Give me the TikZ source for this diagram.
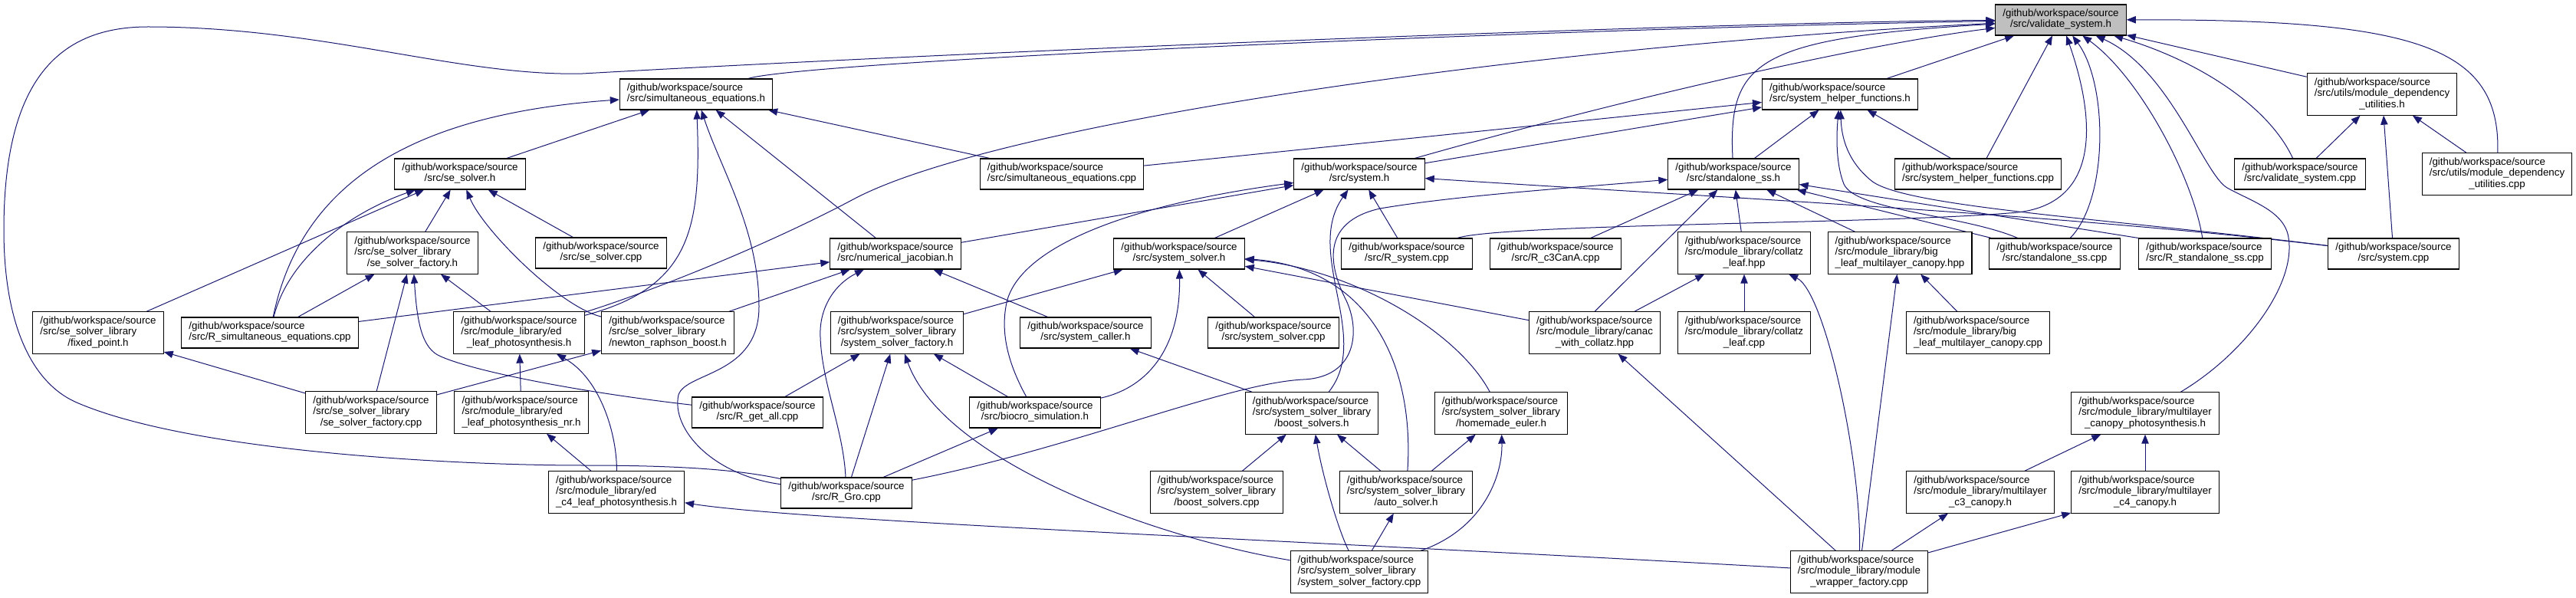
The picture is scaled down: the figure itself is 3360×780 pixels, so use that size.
\documentclass[tikz,border=0pt]{standalone}
\usepackage{fontspec}
\setmainfont{Liberation Sans}
\usepackage{xcolor}
\usetikzlibrary{arrows.meta, backgrounds}

\definecolor{depblue}{RGB}{25,25,112}
\definecolor{rootgray}{RGB}{191,191,191}

\newcommand{\srcii}[1]{\begin{tabular}{@{}l@{}}/github/workspace/source\\\multicolumn{1}{@{}c@{}}{#1}\end{tabular}}
\newcommand{\srciii}[2]{\begin{tabular}{@{}l@{}}/github/workspace/source\\#1\\\multicolumn{1}{@{}c@{}}{#2}\end{tabular}}

\begin{document}
\begin{tikzpicture}[x=0.75pt, y=-0.75pt,
    >={Triangle[length=9pt,width=7pt]},
    file/.style={draw=black, fill=white, line width=0.8pt, inner xsep=7.2pt, inner ysep=4.3pt,
                 font=\fontsize{10}{10.7}\selectfont},
    root/.style={file, fill=rootgray},
    dep/.style={->, depblue, line width=0.75pt}]
    \useasboundingbox (0,0) rectangle (3360,780);

    \node[root] (vsh) at (2688,26) {\srcii{/src/validate\_system.h}};
    \node[file] (seqh) at (908,123) {\srcii{/src/simultaneous\_equations.h}};
    \node[file] (shfh) at (2400,123) {\srcii{/src/system\_helper\_functions.h}};
    \node[file] (mduh) at (3107,123) {\srciii{/src/utils/module\_dependency}{\_utilities.h}};

    \node[file] (sesh) at (600,227) {\srcii{/src/se\_solver.h}};
    \node[file] (seqcpp) at (1385,227) {\srcii{/src/simultaneous\_equations.cpp}};
    \node[file] (sysh) at (1773,227) {\srcii{/src/system.h}};
    \node[file] (ssh) at (2261,227) {\srcii{/src/standalone\_ss.h}};
    \node[file] (shfcpp) at (2580,227) {\srcii{/src/system\_helper\_functions.cpp}};
    \node[file] (vscpp) at (3000,227) {\srcii{/src/validate\_system.cpp}};
    \node[file] (mducpp) at (3257,227) {\srciii{/src/utils/module\_dependency}{\_utilities.cpp}};

    \node[file] (sesfh) at (538,330) {\srciii{/src/se\_solver\_library}{/se\_solver\_factory.h}};
    \node[file] (sescpp) at (784,330) {\srcii{/src/se\_solver.cpp}};
    \node[file] (njh) at (1168,331) {\srcii{/src/numerical\_jacobian.h}};
    \node[file] (ssolh) at (1538,331) {\srcii{/src/system\_solver.h}};
    \node[file] (rsyscpp) at (1835,331) {\srcii{/src/R\_system.cpp}};
    \node[file] (rc3) at (2029,331) {\srcii{/src/R\_c3CanA.cpp}};
    \node[file] (clhpp) at (2275,330) {\srciii{/src/module\_library/collatz}{\_leaf.hpp}};
    \node[file] (blhpp) at (2478,330) {\srciii{/src/module\_library/big}{\_leaf\_multilayer\_canopy.hpp}};
    \node[file] (sscpp) at (2680,331) {\srcii{/src/standalone\_ss.cpp}};
    \node[file] (rsscpp) at (2876,331) {\srcii{/src/R\_standalone\_ss.cpp}};
    \node[file] (syscpp) at (3122,331) {\srcii{/src/system.cpp}};

    \node[file] (fph) at (128,434) {\srciii{/src/se\_solver\_library}{/fixed\_point.h}};
    \node[file] (rseqcpp) at (352,434) {\srcii{/src/R\_simultaneous\_equations.cpp}};
    \node[file] (edh) at (677,434) {\srciii{/src/module\_library/ed}{\_leaf\_photosynthesis.h}};
    \node[file] (nrbh) at (871,434) {\srciii{/src/se\_solver\_library}{/newton\_raphson\_boost.h}};
    \node[file] (ssfh) at (1170,434) {\srciii{/src/system\_solver\_library}{/system\_solver\_factory.h}};
    \node[file] (sch) at (1416,434) {\srcii{/src/system\_caller.h}};
    \node[file] (ssolcpp) at (1661,434) {\srcii{/src/system\_solver.cpp}};
    \node[file] (canac) at (2080,434) {\srciii{/src/module\_library/canac}{\_with\_collatz.hpp}};
    \node[file] (clcpp) at (2275,434) {\srciii{/src/module\_library/collatz}{\_leaf.cpp}};
    \node[file] (blcpp) at (2580,434) {\srciii{/src/module\_library/big}{\_leaf\_multilayer\_canopy.cpp}};

    \node[file] (sesfcpp) at (484,538) {\srciii{/src/se\_solver\_library}{/se\_solver\_factory.cpp}};
    \node[file] (ednrh) at (680,538) {\srciii{/src/module\_library/ed}{\_leaf\_photosynthesis\_nr.h}};
    \node[file] (rgetall) at (988,538) {\srcii{/src/R\_get\_all.cpp}};
    \node[file] (bsimh) at (1350,538) {\srcii{/src/biocro\_simulation.h}};
    \node[file] (bsh) at (1711,539) {\srciii{/src/system\_solver\_library}{/boost\_solvers.h}};
    \node[file] (heh) at (1958,539) {\srciii{/src/system\_solver\_library}{/homemade\_euler.h}};
    \node[file] (mcph) at (2798,539) {\srciii{/src/module\_library/multilayer}{\_canopy\_photosynthesis.h}};

    \node[file] (edc4h) at (804,642) {\srciii{/src/module\_library/ed}{\_c4\_leaf\_photosynthesis.h}};
    \node[file] (rgro) at (1104,643) {\srcii{/src/R\_Gro.cpp}};
    \node[file] (bscpp) at (1587,642) {\srciii{/src/system\_solver\_library}{/boost\_solvers.cpp}};
    \node[file] (ash) at (1834,642) {\srciii{/src/system\_solver\_library}{/auto\_solver.h}};
    \node[file] (mc3h) at (2583,642) {\srciii{/src/module\_library/multilayer}{\_c3\_canopy.h}};
    \node[file] (mc4h) at (2798,642) {\srciii{/src/module\_library/multilayer}{\_c4\_canopy.h}};

    \node[file] (ssfcpp) at (1773,746) {\srciii{/src/system\_solver\_library}{/system\_solver\_factory.cpp}};
    \node[file] (mwfcpp) at (2425,746) {\srciii{/src/module\_library/module}{\_wrapper\_factory.cpp}};

    \begin{scope}[on background layer]
    \path[dep] (shfh) edge (vsh)
        (shfcpp) edge (vsh)
        (mduh) edge (vsh)
        (sesh) edge (seqh)
        (seqcpp) edge (seqh)
        (njh) edge (seqh)
        (fph) edge (sesh)
        (sesfh) edge (sesh)
        (sescpp) edge (sesh)
        (rseqcpp) edge (sesfh)
        (sesfcpp) edge (sesfh)
        (edh) edge (sesfh)
        (sesfcpp) edge (fph)
        (sesfcpp) edge (nrbh)
        (ednrh) edge (edh)
        (edc4h) edge (ednrh)
        (rseqcpp) edge (njh)
        (nrbh) edge (njh)
        (sch) edge (njh)
        (njh) edge (sysh)
        (rsyscpp) edge (sysh)
        (ssolh) edge (sysh)
        (ssfh) edge (ssolh)
        (ssolcpp) edge (ssolh)
        (canac) edge (ssolh)
        (rgetall) edge (ssfh)
        (rgro) edge (ssfh)
        (bsimh) edge (ssfh)
        (rgro) edge (bsimh)
        (bsh) edge (sch)
        (bscpp) edge (bsh)
        (ash) edge (bsh)
        (ash) edge (heh)
        (ssfcpp) edge (ash)
        (sysh) edge (shfh)
        (ssh) edge (shfh)
        (seqcpp) edge (shfh)
        (shfcpp) edge (shfh)
        (rc3) edge (ssh)
        (canac.north) edge (ssh)
        (clhpp) edge (ssh)
        (blhpp) edge (ssh)
        (sscpp) edge (ssh)
        (rsscpp.north west) edge (ssh)
        (mwfcpp) edge (canac)
        (canac) edge (clhpp)
        (clcpp) edge (clhpp)
        (mwfcpp) edge (blhpp)
        (blcpp) edge (blhpp)
        (mc3h) edge (mcph)
        (mc4h) edge (mcph)
        (mwfcpp) edge (mc3h)
        (mwfcpp) edge (mc4h)
        (vscpp) edge (mduh)
        (mducpp) edge (mduh)
        (syscpp) edge (mduh);

    % into validate_system.h
    \draw[dep] (rgro) .. controls (960,612) and (880,607) .. (760,607)
        .. controls (600,607) and (250,590) .. (100,525)
        .. controls (40,499) and (5,420) .. (5,300)
        .. controls (5,100) and (80,35) .. (193,35)
        .. controls (420,35) and (600,100) .. (760,96)
        .. controls (1400,60) and (2300,28) .. (vsh);
    \draw[dep] (seqh) .. controls (1050,80) and (2000,38) .. (vsh);
    \draw[dep] (edh) .. controls (850,380) and (1000,320) .. (1113,260)
        .. controls (1300,160) and (2000,60) .. (vsh);
    \draw[dep] (sysh) .. controls (2150,120) and (2450,55) .. (vsh);
    \draw[dep] (ssh) .. controls (2254,80) and (2290,50) .. (vsh);
    \draw[dep] (rsyscpp) .. controls (1960,292) and (2450,292) .. (2620,278)
        .. controls (2740,272) and (2735,160) .. (vsh);
    \draw[dep] (sscpp) .. controls (2750,260) and (2750,110) .. (vsh);
    \draw[dep] (rsscpp) .. controls (2860,230) and (2790,100) .. (vsh);
    \draw[dep] (mcph) .. controls (2930,460) and (2995,370) .. (2985,310)
        .. controls (2980,275) and (2935,262) .. (2905,245)
        .. controls (2875,228) and (2830,90) .. (vsh);
    \draw[dep] (vscpp) .. controls (2960,140) and (2870,80) .. (vsh);
    \draw[dep] (mducpp) .. controls (3262,60) and (3150,25) .. (vsh);

    % the others
    \draw[dep] (rseqcpp) .. controls (390,250) and (520,150) .. (seqh);
    \draw[dep] (edh) .. controls (900,375) and (915,300) .. (seqh);
    \draw[dep] (rgro) .. controls (930,620) and (875,560) .. (885,515)
        .. controls (895,485) and (990,490) .. (990,400)
        .. controls (990,300) and (940,220) .. (seqh);
    \draw[dep] (rseqcpp) .. controls (375,340) and (450,280) .. (sesh);
    \draw[dep] (nrbh) .. controls (730,400) and (630,300) .. (sesh);
    \draw[dep] (rgetall) .. controls (760,512) and (620,485) .. (575,465)
        .. controls (550,455) and (544,420) .. (sesfh);
    \draw[dep] (edc4h) .. controls (805,570) and (785,495) .. (edh);
    \draw[dep] (mwfcpp) .. controls (1700,705) and (1050,680) .. (edc4h);
    \draw[dep] (rgro) .. controls (1100,560) and (1072,500) .. (1070,440)
        .. controls (1068,400) and (1090,370) .. (njh);
    \draw[dep] (bsimh) .. controls (1318,480) and (1305,440) .. (1312,400)
        .. controls (1322,330) and (1450,270) .. (sysh);
    \draw[dep] (bsimh) .. controls (1500,505) and (1540,450) .. (ssolh);
    \draw[dep] (heh) .. controls (1900,430) and (1760,350) .. (ssolh);
    \draw[dep] (ash) .. controls (1845,480) and (1790,350) .. (ssolh);
    \draw[dep] (bsh) .. controls (1790,440) and (1700,330) .. (sysh);
    \draw[dep] (rgro) .. controls (1400,585) and (1600,500) .. (1700,495)
        .. controls (1770,492) and (1775,430) .. (1755,390)
        .. controls (1735,350) and (1720,290) .. (1800,272)
        .. controls (1900,255) and (2050,245) .. (ssh);
    \draw[dep] (ssfcpp) .. controls (1500,700) and (1230,600) .. (ssfh);
    \draw[dep] (ssfcpp) .. controls (1935,690) and (1960,620) .. (heh);
    \draw[dep] (ssfcpp) .. controls (1745,690) and (1725,620) .. (bsh);
    \draw[dep] (mwfcpp) .. controls (2428,600) and (2380,380) .. (clhpp);
    \draw[dep] (syscpp) .. controls (2700,280) and (2200,255) .. (sysh);
    \draw[dep] (syscpp) .. controls (2750,285) and (2480,270) .. (2440,235)
        .. controls (2410,210) and (2402,180) .. (shfh);
    \draw[dep] (sscpp) .. controls (2560,280) and (2420,275) .. (2405,240)
        .. controls (2395,215) and (2395,180) .. (shfh);
    \end{scope}
\end{tikzpicture}
\end{document}
